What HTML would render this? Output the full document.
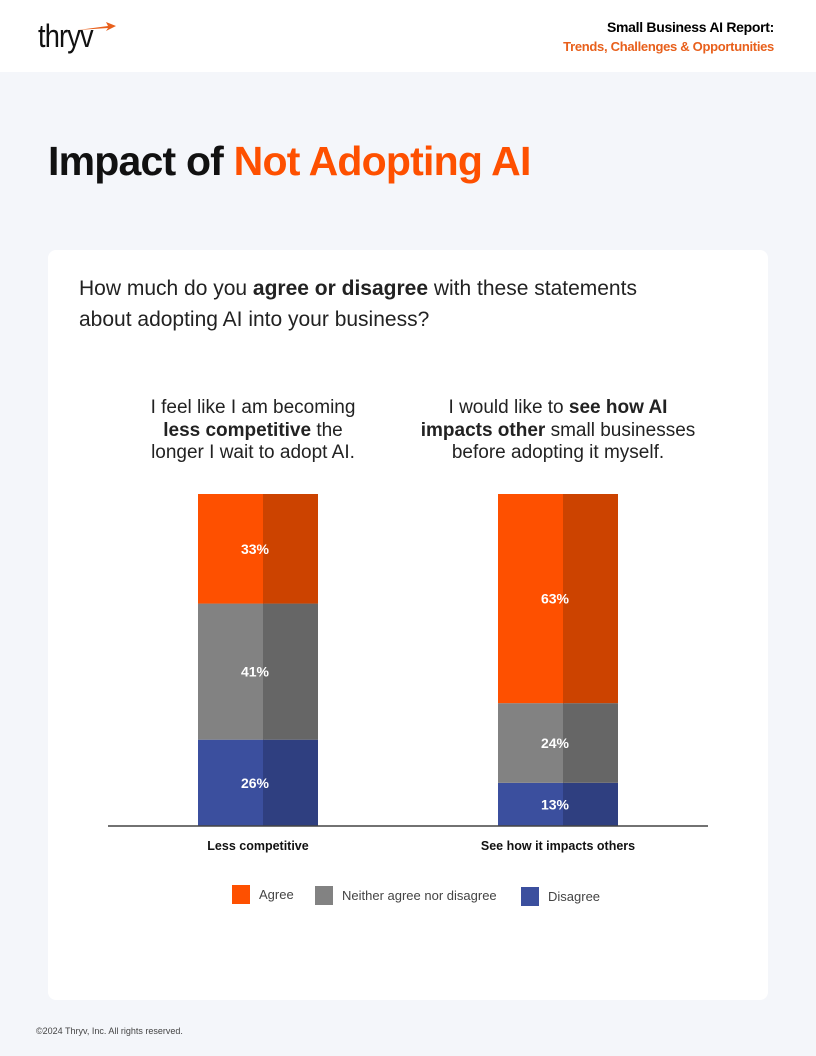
<!DOCTYPE html>
<html><head><meta charset="utf-8"><style>
body{margin:0;width:816px;height:1056px;background:#f4f6fa;font-family:"Liberation Sans",sans-serif;position:relative;overflow:hidden}
.hdr{position:absolute;left:0;top:0;width:816px;height:72px;background:#fff}
.card{position:absolute;left:48px;top:250px;width:720px;height:750px;background:#fff;border-radius:8px}
</style></head><body>
<div class="hdr">
 <div style="position:absolute;left:38px;top:18px;font-size:32px;color:#111;letter-spacing:-1px;transform:scaleX(0.85);transform-origin:left">thryv</div>
 <svg style="position:absolute;left:78px;top:22px" width="40" height="10"><path d="M0 8 L30 4 L28 0 L38 4 L28 9 L30 6 Z" fill="#e8601c"/></svg>
 <div style="position:absolute;right:42px;top:18px;text-align:right;font-weight:bold;font-size:14px;line-height:19px;letter-spacing:-0.3px">Small Business AI Report:<br><span style="color:#e8601c;font-size:13px">Trends, Challenges &amp; Opportunities</span></div>
</div>
<div style="position:absolute;left:48px;top:138px;font-size:41px;font-weight:bold;letter-spacing:-0.8px;color:#111">Impact of <span style="color:#fe5000">Not Adopting AI</span></div>
<div class="card"></div>
<div style="position:absolute;left:79px;top:273px;font-size:21px;line-height:31px;color:#222">How much do you <b>agree or disagree</b> with these statements<br>about adopting AI into your business?</div>
<div style="position:absolute;left:98px;width:310px;top:397px;text-align:center;font-size:19px;line-height:22.5px;color:#222">I feel like I am becoming<br><b>less competitive</b> the<br>longer I wait to adopt AI.</div>
<div style="position:absolute;left:398px;width:320px;top:397px;text-align:center;font-size:19px;line-height:22.5px;color:#222">I would like to <b>see how AI<br>impacts other</b> small businesses<br>before adopting it myself.</div>
<svg id="chart" style="position:absolute;left:0;top:0" width="816" height="1056"></svg>
<div style="position:absolute;left:36px;top:1026px;font-size:9px;color:#444">©2024 Thryv, Inc. All rights reserved.</div>
<script>
const categories=["Less competitive","See how it impacts others"];
const agree=[33,63];
const neither=[41,24];
const disagree=[26,13];
const seriesNames=["Agree","Neither agree nor disagree","Disagree"];
const svg=document.getElementById('chart');
const NS='http://www.w3.org/2000/svg';
const y0=826,plotH=332,barW=120;
const yScale=v=>v/100*plotH;
const xCenter=i=>258+i*300;
const colors=[["#fe5000","#cc4300"],["#828282","#666666"],["#3b4f9e","#2f3f80"]];
function mk(t,a){const e=document.createElementNS(NS,t);for(const k in a)e.setAttribute(k,a[k]);svg.appendChild(e);return e;}
categories.forEach((c,i)=>{
 let base=y0;
 [disagree,neither,agree].forEach((s,si)=>{
  const ci=2-si,h=yScale(s[i]),top=base-h,x=xCenter(i)-barW/2;
  const l=mk('rect',{x:x,y:top,width:barW/2+6,height:h,fill:colors[ci][0]});
  
  
  const r=mk('rect',{x:x+barW/2+5,y:top,width:barW/2-5,height:h,fill:colors[ci][1]});
  
  
  const t=mk('text',{x:xCenter(i)-3,y:top+h/2+5,'text-anchor':'middle','font-size':14,'font-weight':'bold',fill:'#fff'});
  t.textContent=s[i]+'%';
  
  
  base=top;
 });
 const cl=mk('text',{x:xCenter(i),y:850,'text-anchor':'middle','font-size':12.5,'font-weight':'bold',fill:'#111'});
 cl.textContent=c;
 
 
});
const ax=mk('line',{x1:108,x2:708,y1:y0,y2:y0,stroke:'#444','stroke-width':1.5});


const lx=[232,315,521],ly=[885,886,887];
seriesNames.forEach((n,i)=>{
 const r=mk('rect',{x:lx[i],y:ly[i],width:18,height:19,fill:colors[i][0]});
 
 
 const t=mk('text',{x:lx[i]+27,y:ly[i]+14,'font-size':13,fill:'#444'});
 t.textContent=n;
 
 
});
</script>
</body></html>
